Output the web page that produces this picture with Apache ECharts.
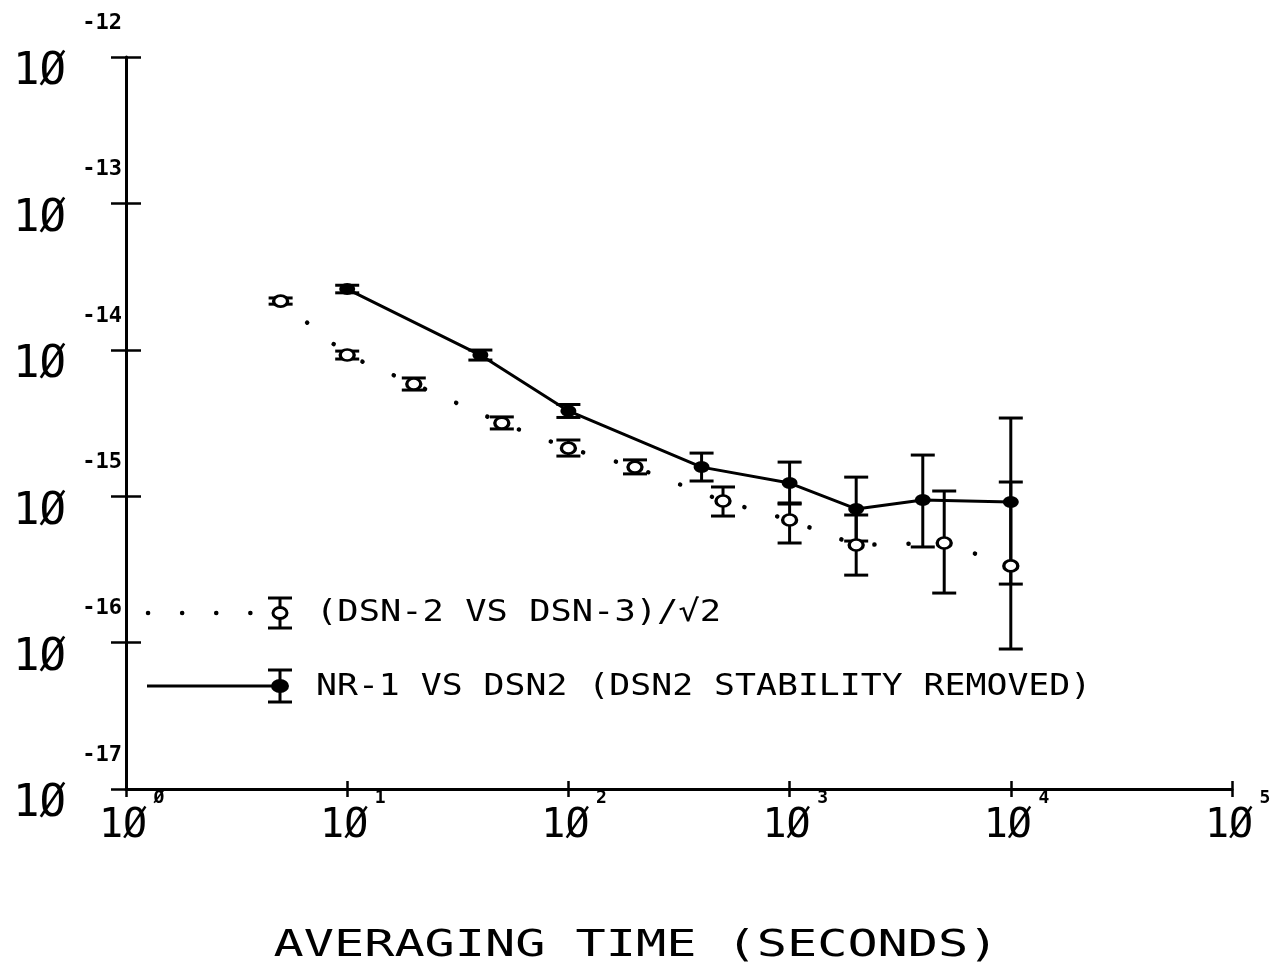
<!DOCTYPE html>
<html>
<head>
<meta charset="utf-8">
<script src="https://cdn.jsdelivr.net/npm/echarts@6/dist/echarts.min.js"></script>
<style>
  html, body { margin: 0; padding: 0; background: #fff; }
  #chart { width: 1280px; height: 969px; }
</style>
</head>
<body>
<div id="chart"></div>
<script>
// tick labels (exponent of 10 printed next to each "1Ø")
var xTickExps = ['Ø', '1', '2', '3', '4', '5'];
var yTickExps = ['-17', '-16', '-15', '-14', '-13', '-12'];

// (DSN-2 VS DSN-3)/√2  -- dotted
var dsnTau   = [5, 10, 20, 50, 100, 200, 500, 1000, 2000, 5000, 10000];
var dsnSigma = [2.15e-14, 9.21e-15, 5.84e-15, 3.16e-15, 2.13e-15, 1.58e-15, 9.27e-16, 6.88e-16, 4.64e-16, 4.79e-16, 3.34e-16];
var dsnLow   = [2.05e-14, 8.65e-15, 5.31e-15, 2.88e-15, 1.88e-15, 1.42e-15, 7.32e-16, 4.79e-16, 2.89e-16, 2.18e-16, 9.04e-17];
var dsnHigh  = [2.26e-14, 9.80e-15, 6.42e-15, 3.48e-15, 2.42e-15, 1.77e-15, 1.156e-15, 8.84e-16, 7.44e-16, 1.085e-15, 1.25e-15];

// NR-1 VS DSN2 (DSN2 stability removed) -- solid
var nrTau   = [10, 40, 100, 400, 1000, 2000, 4000, 10000];
var nrSigma = [2.60e-14, 9.21e-15, 3.82e-15, 1.58e-15, 1.23e-15, 8.18e-16, 9.42e-16, 9.13e-16];
var nrLow   = [2.45e-14, 8.51e-15, 3.45e-15, 1.27e-15, 8.99e-16, 4.94e-16, 4.50e-16, 2.51e-16];
var nrHigh  = [2.76e-14, 9.96e-15, 4.23e-15, 1.97e-15, 1.71e-15, 1.35e-15, 1.91e-15, 3.42e-15];

var legendNames = ['(DSN-2 VS DSN-3)/√2', 'NR-1 VS DSN2 (DSN2 STABILITY REMOVED)'];
var xTitle = 'AVERAGING TIME (SECONDS)';

var MONO = '"DejaVu Sans Mono", monospace';

function pairs(xs, ys) {
    return xs.map(function (x, i) { return [x, ys[i]]; });
}
function bars(xs, lo, hi) {
    return xs.map(function (x, i) { return [x, lo[i], hi[i]]; });
}

// error bar: vertical line + two caps
function errBar(params, api) {
    var top = api.coord([api.value(0), api.value(2)]);
    var bot = api.coord([api.value(0), api.value(1)]);
    var hw = 12;
    var st = { stroke: '#000', lineWidth: 3 };
    return {
        type: 'group',
        children: [
            { type: 'line', shape: { x1: top[0], y1: top[1], x2: bot[0], y2: bot[1] }, style: st },
            { type: 'line', shape: { x1: top[0] - hw, y1: top[1], x2: top[0] + hw, y2: top[1] }, style: st },
            { type: 'line', shape: { x1: bot[0] - hw, y1: bot[1], x2: bot[0] + hw, y2: bot[1] }, style: st }
        ]
    };
}

function expIndex(v) {
    return Math.round(Math.log(v) / Math.LN10);
}

var chart = echarts.init(document.getElementById('chart'));

var logX = { type: 'log', logBase: 10, min: 1, max: 1e5, splitLine: { show: false }, minorTick: { show: false } };
var logY = { type: 'log', logBase: 10, min: 1e-17, max: 1e-12, splitLine: { show: false }, minorTick: { show: false } };

var option = {
    animation: false,
    backgroundColor: '#fff',
    grid: { left: 126, right: 48, top: 57, bottom: 180 },
    xAxis: [
        Object.assign({}, logX, {
            position: 'bottom',
            axisLine: { lineStyle: { color: '#000', width: 3 } },
            axisTick: { length: 8, lineStyle: { color: '#000', width: 2.5 } },
            axisLabel: {
                margin: 2,
                color: '#000',
                // exponent on first line (pushed right), "1Ø" below it
                formatter: function (v) {
                    return '{s|' + xTickExps[expIndex(v)] + '}\n{b|1Ø}';
                },
                rich: {
                    s: { fontFamily: MONO, fontWeight: 'bold', fontSize: 18, lineHeight: 14, padding: [0, 0, 0, 66], color: '#000' },
                    b: { fontFamily: MONO, fontSize: 40, lineHeight: 44, padding: [0, 6, 0, 0], color: '#000' }
                }
            }
        }),
        // second copy only for the inward half of the crossing ticks
        Object.assign({}, logX, {
            position: 'bottom',
            offset: 0,
            axisLine: { show: false },
            axisTick: { inside: true, length: 8, lineStyle: { color: '#000', width: 2.5 } },
            axisLabel: { show: false }
        })
    ],
    yAxis: [
        Object.assign({}, logY, {
            position: 'left',
            axisLine: { lineStyle: { color: '#000', width: 3 } },
            axisTick: { length: 15, lineStyle: { color: '#000', width: 2.5 } },
            axisLabel: {
                margin: 4,
                color: '#000',
                formatter: function (v) {
                    return '{s|' + yTickExps[expIndex(v) + 17] + '}\n{b|1Ø}';
                },
                rich: {
                    s: { fontFamily: MONO, fontWeight: 'bold', fontSize: 22, lineHeight: 32, color: '#000' },
                    b: { fontFamily: MONO, fontSize: 44, lineHeight: 68, padding: [0, 56, 0, 0], color: '#000' }
                }
            }
        }),
        Object.assign({}, logY, {
            position: 'left',
            offset: 0,
            axisLine: { show: false },
            axisTick: { inside: true, length: 15, lineStyle: { color: '#000', width: 2.5 } },
            axisLabel: { show: false }
        })
    ],
    series: [
        {
            name: legendNames[0] + ' err',
            type: 'custom',
            renderItem: errBar,
            encode: { x: 0, y: [1, 2] },
            data: bars(dsnTau, dsnLow, dsnHigh),
            z: 2
        },
        {
            name: legendNames[0],
            type: 'line',
            data: pairs(dsnTau, dsnSigma),
            symbol: 'circle',
            symbolSize: [14, 11],
            itemStyle: { color: '#fff', borderColor: '#000', borderWidth: 3 },
            lineStyle: { color: '#000', width: 4.5, type: [0.1, 34], cap: 'round' },
            z: 3
        },
        {
            name: legendNames[1] + ' err',
            type: 'custom',
            renderItem: errBar,
            encode: { x: 0, y: [1, 2] },
            data: bars(nrTau, nrLow, nrHigh),
            z: 2
        },
        {
            name: legendNames[1],
            type: 'line',
            data: pairs(nrTau, nrSigma),
            symbol: 'circle',
            symbolSize: [16, 12],
            itemStyle: { color: '#000' },
            lineStyle: { color: '#000', width: 3 },
            z: 3
        }
    ],
    graphic: [
        // legend entry 1 (dotted)
        { type: 'line', shape: { x1: 148, y1: 613, x2: 266, y2: 613 }, style: { stroke: '#000', lineWidth: 4.5, lineDash: [0.1, 34], lineCap: 'round' } },
        { type: 'line', shape: { x1: 280, y1: 598, x2: 280, y2: 628 }, style: { stroke: '#000', lineWidth: 3 } },
        { type: 'line', shape: { x1: 268, y1: 598, x2: 292, y2: 598 }, style: { stroke: '#000', lineWidth: 3 } },
        { type: 'line', shape: { x1: 268, y1: 628, x2: 292, y2: 628 }, style: { stroke: '#000', lineWidth: 3 } },
        { type: 'ellipse', shape: { cx: 280, cy: 613, rx: 7, ry: 5.5 }, style: { fill: '#fff', stroke: '#000', lineWidth: 3 } },
        { type: 'text', x: 316, y: 613, scaleX: 1.18,
          style: { text: legendNames[0], fontFamily: MONO, fontSize: 30, fill: '#000', align: 'left', textAlign: 'left', verticalAlign: 'middle', textVerticalAlign: 'middle' } },
        // legend entry 2 (solid)
        { type: 'line', shape: { x1: 147, y1: 686, x2: 280, y2: 686 }, style: { stroke: '#000', lineWidth: 3 } },
        { type: 'line', shape: { x1: 280, y1: 670, x2: 280, y2: 702 }, style: { stroke: '#000', lineWidth: 3 } },
        { type: 'line', shape: { x1: 268, y1: 670, x2: 292, y2: 670 }, style: { stroke: '#000', lineWidth: 3 } },
        { type: 'line', shape: { x1: 268, y1: 702, x2: 292, y2: 702 }, style: { stroke: '#000', lineWidth: 3 } },
        { type: 'ellipse', shape: { cx: 280, cy: 686, rx: 8, ry: 6 }, style: { fill: '#000', stroke: '#000', lineWidth: 2 } },
        { type: 'text', x: 316, y: 687, scaleX: 1.16,
          style: { text: legendNames[1], fontFamily: MONO, fontSize: 30, fill: '#000', align: 'left', textAlign: 'left', verticalAlign: 'middle', textVerticalAlign: 'middle' } },
        // axis title
        { type: 'text', x: 636, y: 946, scaleX: 1.32,
          style: { text: xTitle, fontFamily: MONO, fontSize: 38, fill: '#000', align: 'center', textAlign: 'center', verticalAlign: 'middle', textVerticalAlign: 'middle' } }
    ]
};

chart.setOption(option);
</script>
</body>
</html>
